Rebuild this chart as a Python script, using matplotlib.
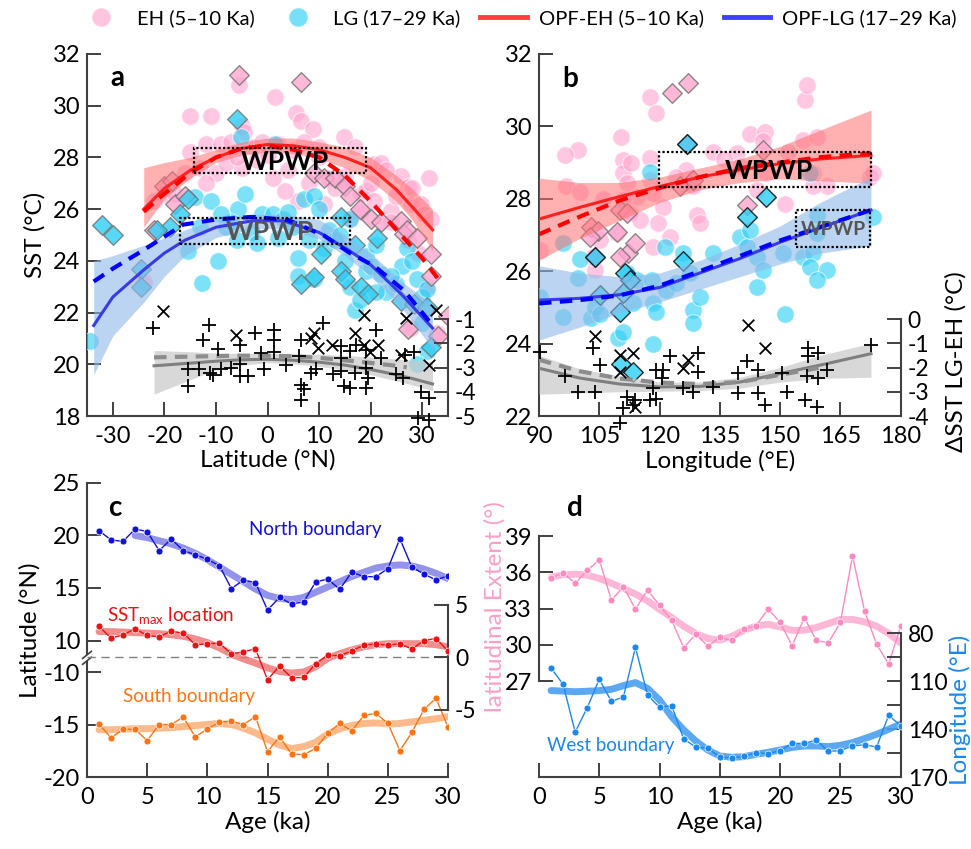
import matplotlib
matplotlib.use("Agg")
import matplotlib.pyplot as plt
from matplotlib.lines import Line2D
from matplotlib.patches import Rectangle

plt.rcParams["font.family"] = ["Lato", "DejaVu Sans"]
plt.rcParams["axes.unicode_minus"] = False
plt.rcParams["mathtext.fontset"] = "custom"
plt.rcParams["mathtext.rm"] = "Lato"

# ---------------- panel a data (latitude) ----------------
eh_a_lat = [-5.5, 1.5, -15, -11, -5, -4.5, 5.5, 6.5, 8.8, -15, -12, -9, -7, -3, -1, 2, 5, 7, 10, 14.9,
            17, 20.7, 22, 25.9, 27.2, 31.4, -20, -22, -18, -16, -13, -10, -8, -5, -2, 1, 4, 8, 12, 15,
            18.1, 19, 20.7, 23.9, 25, 27.8, 29.7, 30.4, 27.2, 29.1, 31, 32.9, 27.8, 10, 13, 18, 24, 6, 3.3,
            -6, -12, 28, 23, 20, 0, 11, 16, 31.7, -24, 14.9]
eh_a_sst = [30.8, 30.35, 29.6, 29.6, 29.2, 29.0, 29.7, 29.4, 29.1, 28.2, 28.5, 28.5, 28.6, 28.4, 28.6, 28.5,
            28.3, 28.6, 28.4, 28.8, 28.4, 27.75, 27.8, 27.3, 26.85, 27.2, 26.6, 26.3, 26.6, 27.4, 27.6, 27.4,
            27.8, 27.6, 27.9, 27.2, 27.5, 27.0, 27.2, 27.3, 26.6, 26.7, 26.33, 25.94, 26.5, 26.2, 26.2, 25.8,
            24.8, 24.3, 23.0, 21.2, 21.4, 28.0, 26.8, 25.9, 25.5, 26.3, 26.7, 28.0, 27.0, 26.8, 27.5, 27.0,
            28.1, 26.2, 25.6, 25.6, 23.2, 27.1]
lg_a_lat = [-34.5, -15.4, -12.7, -14.1, -10.9, -5.75, -4.45, -1, 1, -8, -3, 3, 5, -9.6, -6, -13, 6, 7, 9,
            10, 12, 8, 6, 9, 11, 13, 16, 15, 16, 17, 19, 19, 20, 21, 22, 23, 25, 26, 27, 28, 29, 30, 31, 30,
            31, 29, 21, 18, -7, -2, 2, 4, -5.1, 1.4, -9, 14, 24]
lg_a_sst = [20.9, 24.4, 23.13, 26.46, 26.33, 26.0, 26.58, 25.8, 25.8, 25.3, 25.1, 25.6, 25.3, 24.0, 24.8,
            25.3, 24.1, 26.4, 26.5, 26.0, 25.2, 24.8, 23.4, 23.3, 24.5, 24.8, 25.6, 24.0, 23.0, 22.1, 23.6,
            24.2, 23.8, 24.6, 23.5, 22.8, 23.1, 23.8, 24.5, 24.0, 23.3, 22.6, 22.9, 21.6, 20.5, 20.0, 22.8,
            22.5, 25.5, 24.7, 24.9, 25.9, 28.8, 28.5, 25.8, 25.0, 23.4]
ehd_a_lat = [-5.5, 6.5, -20, -18.5, -18, -22, 9, 11, 13, 15, 16, 18, 20, 22, 25.9, 26.5, 27, 29, 31.7,
             31.7, 34.9, 33, 27.2, -16]
ehd_a_sst = [31.2, 30.9, 26.9, 27.1, 26.2, 25.2, 27.4, 27.2, 27.2, 26.9, 26.5, 26.0, 25.6, 25.5, 25.55,
             25.04, 25.2, 24.9, 24.27, 23.43, 21.88, 21.1, 21.37, 26.5]
lgd_a_lat = [-32, -30, -24.5, -24.5, -19, -17, -15.5, -6, 10.4, 6.5, 9.1, 14.3, 18.1, 21.3, 25.9, 28.4, 31,
             31.7, 19.4, 14.3, -21.5, 17, 15]
lgd_a_sst = [25.4, 25.0, 23.7, 23.0, 25.3, 25.8, 26.4, 29.5, 24.27, 23.1, 23.36, 23.6, 22.98, 24.9, 22.46,
             22.33, 22.2, 20.66, 22.7, 25.7, 25.2, 24.6, 23.3]
plus_a_lat = [-22.2, -12.5, -11.4, -9.6, -5.4, -2.5, 1.2, 1.3, 1.3, 6.5, 10.7, 14.3, 17.2, 19.1, 21.1, 26.6,
              28.5, 29.8, 31.4, 29.2, 31.4, -15.5, -15.5, -13.2, -11.2, -9, -7.0, -5.4, -3.8, -0.6, 3.6,
              6.5, 6.5, 8.5, 9.4, 12.7, 14.3, 14.9, 15.9, 16.9, 19.1, 19.5, 25, 26.2, 14.3, 19.1, 6.2, -5.4,
              -1.2, -10.5, 7, 16, 22]
plus_a_d = [-1.37, -1.86, -1.26, -2.24, -2.06, -1.58, -1.44, -1.86, -2.34, -1.86, -1.17, -2.13, -2.06, -2.27,
            -1.44, -2.48, -2.34, -3.99, -4.27, -5.1, -5.17, -3.08, -3.77, -3.08, -3.22, -3.08, -3.0, -3.35,
            -3.35, -3.08, -2.9, -3.72, -4.34, -3.22, -3.08, -3.28, -3.15, -3.77, -3.84, -3.22, -3.84, -3.42,
            -3.28, -3.42, -2.61, -3.03, -2.54, -2.86, -2.4, -3.3, -3.9, -2.3, -2.6]
x_a_lat = [-20.3, -6.1, 9.1, 8.5, 9.8, 12.5, 16.9, 18.8, 18.8, 21.4, 26.9, 32.7, 25.9, 19.8, 31.4]
x_a_d = [-0.68, -1.65, -1.58, -1.79, -2.2, -2.06, -1.58, -0.82, -2.06, -2.06, -0.96, -0.61, -2.48, -2.34, -2.9]

fit_a_lat = [-24, -20, -15, -10, -5, 0, 5, 10, 15, 20, 25, 28, 32]
red_a_sol = [26.0, 26.8, 27.5, 28.0, 28.35, 28.5, 28.45, 28.3, 28.0, 27.6, 26.75, 26.1, 25.2]
red_a_lo = [25.3, 26.4, 27.2, 27.8, 28.1, 28.2, 28.15, 27.95, 27.6, 27.1, 26.3, 25.6, 24.4]
red_a_hi = [27.6, 27.8, 28.0, 28.3, 28.6, 28.75, 28.75, 28.6, 28.4, 28.0, 27.3, 26.8, 26.0]
red_a_dash_lat = [-24, -20, -15, -10, -5, 0, 5, 10, 15, 20, 25, 30, 33.5]
red_a_dash = [25.9, 26.6, 27.4, 28.0, 28.35, 28.45, 28.3, 28.0, 27.3, 26.3, 25.2, 24.1, 23.2]
blue_a_lat = [-33.7, -30, -24, -20, -16, -10, -3, 3, 10, 15, 20, 26, 32]
blue_a_sol = [21.5, 22.6, 23.65, 24.3, 24.8, 25.3, 25.55, 25.55, 25.1, 24.5, 23.85, 22.7, 21.4]
blue_a_lo = [19.6, 21.1, 22.4, 23.4, 24.2, 24.9, 25.25, 25.25, 24.85, 24.2, 23.4, 22.2, 20.6]
blue_a_hi = [24.0, 24.2, 24.6, 24.9, 25.2, 25.6, 25.8, 25.8, 25.6, 25.0, 24.3, 23.2, 22.3]
blue_a_dash_lat = [-33.7, -30, -24, -16.4, -10, -3, 4, 11, 16, 20.7, 26.5, 32.3]
blue_a_dash = [23.2, 23.7, 24.42, 25.4, 25.6, 25.7, 25.58, 24.97, 24.3, 23.8, 22.85, 21.43]
gray_a_lat = [-22, -15, -10, -5, 0, 5, 10, 15, 20, 25, 28, 32]
gray_a_sol = [-2.93, -2.82, -2.74, -2.68, -2.66, -2.7, -2.78, -2.9, -3.08, -3.3, -3.45, -3.68]
gray_a_lo = [-4.1, -3.5, -3.1, -2.9, -2.8, -2.85, -2.95, -3.1, -3.3, -3.55, -3.72, -3.95]
gray_a_hi = [-2.3, -2.35, -2.4, -2.42, -2.42, -2.43, -2.45, -2.5, -2.57, -2.65, -2.7, -2.75]
gray_a_dash_lat = [-22, -15, -10, -5, 0, 5, 10, 15, 20, 25, 27]
gray_a_dash = [-2.58, -2.55, -2.53, -2.51, -2.51, -2.54, -2.6, -2.7, -2.81, -2.93, -2.99]

# ---------------- panel b data (longitude) ----------------
eh_b_lon = [117.6, 119.2, 110.5, 99.7, 96.4, 110.9, 117.6, 90.2, 96.8, 100.1, 103.9, 103.5, 105.1, 109.3,
            110.9, 111.8, 112.6, 114.3, 110.9, 115.1, 117.6, 118.4, 120.9, 119.7, 122.6, 118.4, 126.7, 128.4,
            129.2, 130, 133.4, 139.2, 140, 142.5, 146.2, 145.8, 144.2, 146.6, 151.2, 156.2, 156.6, 155.8,
            159.1, 158.3, 161.6, 158.3, 172.4, 173.2, 106, 113, 124, 136, 152]
eh_b_sst = [30.82, 30.36, 29.72, 29.35, 29.2, 29.07, 29.12, 26.58, 28.34, 28.2, 26.03, 26.4, 26.86, 27.05,
            28.7, 28.43, 27.6, 28.06, 27.97, 27.41, 28.52, 28.15, 27.78, 27.32, 26.95, 26.68, 28.8, 28.34,
            27.55, 27.32, 29.3, 29.26, 28.9, 29.8, 29.85, 29.6, 28.24, 28.7, 27.87, 30.73, 31.14, 29.62,
            29.72, 28.7, 28.34, 28.34, 28.61, 28.7, 28.0, 29.0, 28.6, 29.1, 29.3]
lg_b_lon = [90.2, 96, 96, 100.1, 99.7, 103, 103.9, 105.1, 109.7, 110.9, 111.8, 113.4, 114.3, 117.6, 118,
            118.4, 119.2, 118.4, 121.3, 121.7, 124.2, 125.9, 127.5, 128.4, 128.4, 130, 133.4, 139.9, 141.7,
            142.5, 144.2, 145.8, 144.2, 150.8, 151.2, 155.8, 158.3, 159.1, 159.1, 157.5, 161.6, 159.1, 173.2,
            157.5]
lg_b_sst = [25.3, 24.74, 26.77, 26.35, 25.8, 24.7, 25.02, 24.83, 24.15, 24.33, 25.94, 25.11, 25.76, 28.75,
            25.76, 25.11, 24.88, 24.0, 26.68, 25.48, 25.67, 26.49, 25.94, 24.93, 24.56, 25.3, 26.49, 26.95,
            26.68, 27.14, 26.4, 26.03, 25.57, 26.49, 24.83, 26.4, 26.49, 27.05, 27.55, 26.12, 26.03, 25.76,
            27.5, 28.7]
ehd_b_lon = [123.2, 127.1, 126.9, 145.8, 141.7, 103, 104.7, 102.6, 103.9, 109.3, 110.1, 111.8, 112.2, 113.8,
             110.1, 125, 128.4]
ehd_b_sst = [30.93, 31.19, 29.5, 29.35, 27.83, 27.23, 27.1, 26.95, 26.4, 27.09, 27.69, 27.6, 26.49, 26.77,
             26.4, 28.34, 28.52]
lgd_b_lon = [125.9, 141.7, 146.5, 105.3, 110.1, 111.3, 112.6, 110.9, 110.5, 113.4, 103.9, 126.9]
lgd_b_sst = [26.29, 27.5, 28.06, 25.34, 24.88, 25.94, 25.76, 25.39, 23.45, 23.22, 26.4, 29.5]
plus_b_lon = [90.2, 96.4, 99.7, 103.9, 103.5, 105.1, 110.1, 110.9, 111.8, 113.8, 117.6, 118.4, 119.2, 120.9,
              122.6, 120.5, 125.9, 128.4, 129.6, 129.6, 133.4, 139.6, 139.6, 141.7, 144.6, 144.6, 146.2,
              150.4, 151.6, 156.2, 157, 157, 159.5, 159.1, 159.5, 161.6, 172.6, 156.6, 113.4, 119.2]
plus_b_d = [-1.34, -2.37, -2.99, -3.03, -1.2, -1.89, -4.3, -3.68, -3.2, -3.34, -3.34, -2.86, -2.1, -2.1,
            -1.54, -2.44, -2.86, -2.99, -2.17, -1.41, -2.79, -2.24, -3.06, -1.75, -2.1, -3.06, -3.54, -2.24,
            -2.99, -3.34, -1.2, -1.54, -1.41, -3.61, -2.44, -2.1, -1.06, -2.37, -3.55, -3.3]
x_b_lon = [103.9, 110.1, 113.4, 125.9, 127.1, 142.1, 146.2, 110.1, 113.8]
x_b_d = [-0.72, -1.48, -1.41, -2.03, -1.68, -0.23, -1.2, -2.17, -3.61]

fit_b_lon = [90, 100, 110, 120, 130, 140, 150, 160, 172.6]
red_b_sol = [27.44, 27.76, 28.06, 28.34, 28.6, 28.8, 28.97, 29.1, 29.2]
red_b_dash = [27.02, 27.5, 27.95, 28.3, 28.6, 28.85, 29.0, 29.15, 29.26]
red_b_lo = [26.3, 26.9, 27.4, 27.9, 28.25, 28.45, 28.55, 28.5, 28.43]
red_b_hi = [28.57, 28.45, 28.45, 28.6, 28.85, 29.1, 29.45, 29.9, 30.45]
blue_b_sol = [25.2, 25.25, 25.35, 25.55, 25.95, 26.35, 26.8, 27.2, 27.69]
blue_b_dash = [25.11, 25.2, 25.33, 25.6, 26.0, 26.42, 26.85, 27.22, 27.69]
blue_b_lo = [24.1, 24.45, 24.85, 25.15, 25.5, 25.85, 26.2, 26.5, 26.7]
blue_b_hi = [26.15, 25.95, 25.85, 25.95, 26.3, 26.75, 27.25, 27.9, 28.6]
gray_b_sol = [-2.03, -2.43, -2.68, -2.8, -2.78, -2.6, -2.25, -1.9, -1.43]
gray_b_lo = [-3.1, -3.05, -3.0, -2.98, -2.95, -2.85, -2.6, -2.45, -2.4]
gray_b_hi = [-1.5, -2.05, -2.35, -2.6, -2.6, -2.4, -2.0, -1.5, -1.0]
gray_b_dash_lon = [90, 100, 110, 120, 130, 140, 150, 161.6]
gray_b_dash = [-1.68, -2.15, -2.45, -2.62, -2.68, -2.6, -2.3, -1.96]

# ---------------- panel c / d data (age) ----------------
age = list(range(1, 31))
north = [20.46, 19.57, 19.44, 20.62, 20.37, 18.56, 19.67, 18.56, 18.17, 17.73, 17.13, 14.94, 15.76, 15.51,
         12.9, 14.1, 13.48, 13.67, 15.57, 15.86, 14.87, 16.52, 16.08, 16.08, 16.84, 19.7, 16.97, 16.33,
         15.76, 16.17]
north_age_s = list(range(4, 31))
north_s = [20.0, 19.8, 19.5, 19.2, 18.8, 18.3, 17.7, 17.0, 16.3, 15.6, 14.9, 14.3, 14.0, 13.9, 14.1, 14.6,
           15.1, 15.6, 16.1, 16.5, 16.9, 17.1, 17.2, 17.1, 16.8, 16.4, 15.9]
sstmax = [2.94, 1.83, 2.14, 2.71, 2.08, 1.95, 2.49, 2.3, 1.19, 1.29, 1.35, 0.33, 0.52, 0.81, -2.14, -0.81,
          -1.95, -1.92, -0.62, 0.21, 0.14, 0.62, 1.16, 1.26, 1.16, 1.29, 0.78, 1.6, 1.79, 0.59]
sstmax_s = [2.45, 2.45, 2.4, 2.35, 2.3, 2.25, 2.15, 2.0, 1.75, 1.4, 0.9, 0.3, -0.15, -0.55, -1.0, -1.35, -1.5,
            -1.4, -0.9, -0.1, 0.35, 0.7, 1.0, 1.2, 1.3, 1.3, 1.3, 1.3, 1.2, 1.0]
south = [-14.98, -16.26, -15.46, -15.46, -16.54, -15.0, -15.0, -14.29, -16.19, -15.43, -14.79, -14.67, -15.0,
         -14.25, -17.59, -16.16, -17.81, -17.87, -17.27, -15.84, -14.89, -15.62, -14.13, -13.94, -14.89,
         -17.49, -15.75, -13.56, -12.5, -15.27]
south_s = [-15.5, -15.5, -15.45, -15.4, -15.4, -15.35, -15.3, -15.2, -15.1, -15.0, -14.9, -15.0, -15.35, -15.8,
           -16.4, -16.95, -17.3, -17.1, -16.7, -15.9, -15.4, -15.1, -14.9, -14.85, -14.95, -14.9, -14.75,
           -14.6, -14.45, -14.25]
extent = [35.52, 35.96, 35.08, 36.16, 37.04, 33.7, 34.8, 32.95, 34.55, 33.26, 32.04, 29.75, 30.88, 29.89,
          30.61, 30.36, 31.3, 31.57, 32.98, 31.85, 29.91, 32.26, 30.36, 30.16, 31.87, 37.34, 32.81, 30.05,
          28.4, 31.54]
extent_s = [35.6, 35.8, 35.85, 35.77, 35.5, 35.1, 34.67, 34.2, 33.64, 32.93, 32.26, 31.54, 30.94, 30.52, 30.38,
            30.7, 31.2, 31.54, 31.7, 31.48, 31.2, 31.2, 31.43, 31.76, 32.1, 32.1, 31.9, 31.54, 30.94, 30.16]
west = [101.9, 112.1, 141.9, 126.7, 108.9, 122.7, 120.0, 89.0, 118.75, 126.5, 125.4, 146.25, 151.25, 152.1,
        157.5, 158.1, 157.1, 154.8, 155.4, 153.5, 149.0, 149.0, 146.9, 154.0, 153.5, 150.6, 149.8, 151.25,
        131.5, 137.9]
west_s = [116.0, 116.3, 116.7, 116.4, 116.0, 115.2, 112.9, 111.0, 114.6, 121.9, 132.3, 140.6, 147.5, 153.1,
          156.9, 157.7, 157.3, 155.8, 154.6, 153.1, 151.5, 150.6, 150.6, 151.0, 150.2, 148.5, 146.0, 143.3,
          140.2, 136.9]

# ---------------- styles ----------------
PINK = "#ffa6cf"
CYAN = "#2ecff5"
SPINE = "#404040"
TICK_FS = 17
LAB_FS = 17.5
NOTE_FS = 13.5

fig = plt.figure(figsize=(9.71, 8.49), dpi=100)


def style(ax, left_bounds=None):
    for s in ["top", "right"]:
        ax.spines[s].set_visible(False)
    for s in ["left", "bottom"]:
        ax.spines[s].set_color(SPINE)
        ax.spines[s].set_linewidth(1.5)
    if left_bounds is not None:
        ax.spines["left"].set_bounds(*left_bounds)
    ax.tick_params(direction="in", length=10, width=1.4, color=SPINE, labelsize=TICK_FS, pad=5)
    ax.tick_params(axis="x", pad=7)


def style_right(ax2, bounds):
    for s in ["top", "left", "bottom"]:
        ax2.spines[s].set_visible(False)
    ax2.spines["right"].set_color(SPINE)
    ax2.spines["right"].set_linewidth(1.5)
    ax2.spines["right"].set_bounds(*bounds)
    ax2.tick_params(direction="in", length=10, width=1.4, color=SPINE, labelsize=TICK_FS - 0.5, pad=5)


def scatter_panel(ax, eh_x, eh_y, lg_x, lg_y, ehd_x, ehd_y, lgd_x, lgd_y, lgd_edge):
    ax.scatter(eh_x, eh_y, s=160, c=PINK, alpha=0.62, edgecolors="white", linewidths=0.8, zorder=2)
    ax.scatter(lg_x, lg_y, s=160, c=CYAN, alpha=0.62, edgecolors="white", linewidths=0.8, zorder=3)
    ax.scatter(ehd_x, ehd_y, s=100, marker="D", c=PINK, alpha=0.8, edgecolors="#707070", linewidths=1.0,
               zorder=4)
    ax.scatter(lgd_x, lgd_y, s=100, marker="D", c=CYAN, alpha=0.8, edgecolors=lgd_edge, linewidths=1.0,
               zorder=4)


# ================= panel a =================
ax_a = fig.add_axes([0.0896, 0.51, 0.3718, 0.4264])
style(ax_a)
scatter_panel(ax_a, eh_a_lat, eh_a_sst, lg_a_lat, lg_a_sst, ehd_a_lat, ehd_a_sst, lgd_a_lat, lgd_a_sst,
              "#707070")
ax_a.fill_between(fit_a_lat, red_a_lo, red_a_hi, color="#ff6f6f", alpha=0.55, lw=0, zorder=5)
ax_a.fill_between(blue_a_lat, blue_a_lo, blue_a_hi, color="#8fb8e8", alpha=0.6, lw=0, zorder=5)
ax_a.plot(fit_a_lat, red_a_sol, color="#ff2020", lw=2.2, zorder=6)
ax_a.plot(red_a_dash_lat, red_a_dash, color="#ff0000", lw=3, ls=(0, (3, 2)), zorder=6)
ax_a.plot(blue_a_lat, blue_a_sol, color="#3a3ae8", lw=2.2, zorder=6)
ax_a.plot(blue_a_dash_lat, blue_a_dash, color="#0000ff", lw=3, ls=(0, (3, 2)), zorder=6)
ax_a.add_patch(Rectangle((-14.35, 27.38), 33.45, 0.97, fill=False, ec="black", lw=1.6, ls=(0, (1, 1)), zorder=8))
ax_a.add_patch(Rectangle((-16.9, 24.65), 32.8, 0.99, fill=False, ec="black", lw=1.6, ls=(0, (1, 1)), zorder=8))
ax_a.text(3.3, 27.84, "WPWP", ha="center", va="center", fontsize=19, fontweight="bold", color="black", zorder=9)
ax_a.text(0.4, 25.12, "WPWP", ha="center", va="center", fontsize=19, fontweight="bold", color="#555555",
          zorder=9)
ax_a.set_xlim(-35, 35)
ax_a.set_ylim(18, 32)
ax_a.set_xticks(range(-30, 31, 10))
ax_a.set_yticks(range(18, 33, 2))
ax_a.set_xlabel("Latitude (°N)", fontsize=LAB_FS, labelpad=2)
ax_a.set_ylabel("SST (°C)", fontsize=LAB_FS, labelpad=5)
ax_a.text(0.065, 0.935, "a", transform=ax_a.transAxes, fontsize=20, fontweight="bold", va="center")

ax_a2 = ax_a.twinx()
style_right(ax_a2, (-5, -1))
ax_a2.fill_between(gray_a_lat, gray_a_lo, gray_a_hi, color="#c8c8c8", alpha=0.7, lw=0, zorder=1)
ax_a2.plot(gray_a_lat, gray_a_sol, color="#7f7f7f", lw=2.2, zorder=2)
ax_a2.plot(gray_a_dash_lat, gray_a_dash, color="#8c8c8c", lw=3, ls=(0, (3, 2)), zorder=2)
ax_a2.scatter(plus_a_lat, plus_a_d, marker="+", s=110, c="black", linewidths=1.3, zorder=3, clip_on=False)
ax_a2.scatter(x_a_lat, x_a_d, marker="x", s=70, c="black", linewidths=1.3, zorder=3, clip_on=False)
ax_a2.set_ylim(-5, 9.93)
ax_a2.set_yticks([-5, -4, -3, -2, -1])

# ================= panel b =================
ax_b = fig.add_axes([0.5551, 0.51, 0.3725, 0.4264])
style(ax_b)
scatter_panel(ax_b, eh_b_lon, eh_b_sst, lg_b_lon, lg_b_sst, ehd_b_lon, ehd_b_sst, lgd_b_lon, lgd_b_sst,
              "black")
ax_b.fill_between(fit_b_lon, red_b_lo, red_b_hi, color="#ff6f6f", alpha=0.55, lw=0, zorder=5)
ax_b.fill_between(fit_b_lon, blue_b_lo, blue_b_hi, color="#8fb8e8", alpha=0.6, lw=0, zorder=5)
ax_b.plot(fit_b_lon, red_b_sol, color="#ff2020", lw=2.2, zorder=6)
ax_b.plot(fit_b_lon, red_b_dash, color="#ff0000", lw=3, ls=(0, (3, 2)), zorder=6)
ax_b.plot(fit_b_lon, blue_b_sol, color="#3a3ae8", lw=2.2, zorder=6)
ax_b.plot(fit_b_lon, blue_b_dash, color="#0000ff", lw=3, ls=(0, (3, 2)), zorder=6)
ax_b.add_patch(Rectangle((119.8, 28.32), 52.8, 0.98, fill=False, ec="black", lw=1.6, ls=(0, (1, 1)), zorder=8))
ax_b.add_patch(Rectangle((153.9, 26.68), 18.5, 1.01, fill=False, ec="black", lw=1.6, ls=(0, (1, 1)), zorder=8))
ax_b.text(147.1, 28.78, "WPWP", ha="center", va="center", fontsize=19, fontweight="bold", color="black", zorder=9)
ax_b.text(163.3, 27.14, "WPWP", ha="center", va="center", fontsize=14, fontweight="bold", color="#555555",
          zorder=9)
ax_b.set_xlim(90, 180)
ax_b.set_ylim(22, 32)
ax_b.set_xticks(range(90, 181, 15))
ax_b.set_yticks(range(22, 33, 2))
ax_b.set_xlabel("Longitude (°E)", fontsize=LAB_FS, labelpad=2)
ax_b.text(0.064, 0.93, "b", transform=ax_b.transAxes, fontsize=20, fontweight="bold", va="center")

ax_b2 = ax_b.twinx()
style_right(ax_b2, (-4, 0))
ax_b2.fill_between(fit_b_lon, gray_b_lo, gray_b_hi, color="#c8c8c8", alpha=0.7, lw=0, zorder=1)
ax_b2.plot(fit_b_lon, gray_b_sol, color="#7f7f7f", lw=2.2, zorder=2)
ax_b2.plot(gray_b_dash_lon, gray_b_dash, color="#8c8c8c", lw=3, ls=(0, (3, 2)), zorder=2)
ax_b2.scatter(plus_b_lon, plus_b_d, marker="+", s=110, c="black", linewidths=1.3, zorder=3, clip_on=False)
ax_b2.scatter(x_b_lon, x_b_d, marker="x", s=70, c="black", linewidths=1.3, zorder=3, clip_on=False)
ax_b2.set_ylim(-4, 10.93)
ax_b2.set_yticks([-4, -3, -2, -1, 0])
fig.text(956 / 971, 1 - 362 / 849, "ΔSST LG-EH (°C)", rotation=90, ha="center", va="center", fontsize=LAB_FS)

# ================= panel c =================
OFF = 17  # lower (southern) part of the broken axis is shifted up by this amount
ax_c = fig.add_axes([0.0896, 0.0848, 0.3718, 0.3463])
style(ax_c)
ax_c.plot(north_age_s, north_s, color="#7878e8", lw=5, alpha=0.8, solid_capstyle="round", zorder=2)
ax_c.plot(age, north, color="#1010e0", lw=1.0, marker="o", ms=5, mec="white", mew=0.5, zorder=3)
ax_c.plot(age, [v + OFF for v in south_s], color="#ffae78", lw=5, alpha=0.85, solid_capstyle="round", zorder=2)
ax_c.plot(age, [v + OFF for v in south], color="#ff7410", lw=1.0, marker="o", ms=5, mec="white", mew=0.5,
          zorder=3)
ax_c.set_xlim(0, 30)
ax_c.set_ylim(-3, 25)
ax_c.set_xticks(range(0, 31, 5))
ax_c.set_yticks([25, 20, 15, 10, -10 + OFF, -15 + OFF, -20 + OFF])
ax_c.set_yticklabels(["25", "20", "15", "10", "-10", "-15", "-20"])
ax_c.set_xlabel("Age (ka)", fontsize=LAB_FS, labelpad=2)
ax_c.set_ylabel("Latitude (°N)", fontsize=LAB_FS, labelpad=2)
ax_c.text(0.058, 0.915, "c", transform=ax_c.transAxes, fontsize=20, fontweight="bold", va="center")
ax_c.text(19.0, 20.6, "North boundary", color="#1010e0", fontsize=NOTE_FS, ha="center", va="center")
ax_c.text(1.7, 12.3, "SST$_{\\mathregular{max}}$ location", color="#ee1010", fontsize=NOTE_FS, ha="left",
          va="center")
ax_c.text(3.0, -12.3 + OFF, "South boundary", color="#ff7410", fontsize=NOTE_FS, ha="left", va="center")
# axis break mark
ybreak = (8.35 + 3) / 28
ax_c.add_patch(Rectangle((-0.012, ybreak - 0.01), 0.024, 0.02, transform=ax_c.transAxes, fc="white", ec="none",
                         clip_on=False, zorder=10))
for dy in (-0.01, 0.01):
    ax_c.plot([-0.012, 0.012], [ybreak + dy - 0.012, ybreak + dy + 0.012], transform=ax_c.transAxes,
              color=SPINE, lw=1.2, clip_on=False, zorder=11)

ax_c2 = ax_c.twinx()
style_right(ax_c2, (-5, 5))
ax_c2.axhline(0, color="#808080", lw=1.0, ls=(0, (6, 4)), zorder=1)
ax_c2.plot(age, sstmax_s, color="#f07070", lw=5, alpha=0.8, solid_capstyle="round", zorder=2)
ax_c2.plot(age, sstmax, color="#ee1010", lw=1.0, marker="o", ms=5, mec="white", mew=0.5, zorder=3)
ax_c2.set_ylim(-3 - 8.4, 25 - 8.4)
ax_c2.set_yticks([-5, 0, 5])

# ================= panel d =================
ax_d = fig.add_axes([0.5551, 0.0848, 0.3725, 0.3463])
style(ax_d, left_bounds=(27, 39))
ax_d.plot(age, extent_s, color="#ffb0d4", lw=5, alpha=0.9, solid_capstyle="round", zorder=2)
ax_d.plot(age, extent, color="#ff8ac0", lw=1.0, marker="o", ms=5, mec="white", mew=0.5, zorder=3)
ax_d.set_xlim(0, 30)
ax_d.set_ylim(19.05, 43.4)
ax_d.set_xticks(range(0, 31, 5))
ax_d.set_yticks(range(27, 40, 3))
ax_d.set_xlabel("Age (ka)", fontsize=LAB_FS, labelpad=2)
ax_d.text(0.077, 0.915, "d", transform=ax_d.transAxes, fontsize=20, fontweight="bold", va="center")
fig.text(495 / 971, 1 - 607 / 849, "latitudinal Extent (°)", rotation=90, ha="center", va="center",
         fontsize=LAB_FS, color="#ff9ec8")

ax_d2 = ax_d.twinx()
style_right(ax_d2, (80, 170))
ax_d2.plot(age, west_s, color="#4aa0f0", lw=5, alpha=0.9, solid_capstyle="round", zorder=2)
ax_d2.plot(age, west, color="#1a88f0", lw=1.0, marker="o", ms=5, mec="white", mew=0.5, zorder=3)
ax_d2.set_ylim(170, -13.75)
ax_d2.set_yticks([80, 110, 140, 170])
ax_d2.set_yticks([95, 125, 155], minor=True)
ax_d2.tick_params(which="minor", direction="in", length=10, width=1.4, color=SPINE)
ax_d2.text(0.7, 150.5, "West boundary", color="#1a88f0", fontsize=NOTE_FS, ha="left", va="center")
fig.text(960 / 971, 1 - 710 / 849, "Longitude (°E)", rotation=90, ha="center", va="center", fontsize=LAB_FS,
         color="#1a88f0")

# ================= legend =================
handles = [
    Line2D([], [], ls="none", marker="o", ms=14, mfc=PINK, mec="white", alpha=0.65),
    Line2D([], [], ls="none", marker="o", ms=14, mfc=CYAN, mec="white", alpha=0.65),
    Line2D([], [], color="#ff4040", lw=3.5),
    Line2D([], [], color="#4040ff", lw=3.5),
]
labels = ["EH (5–10 Ka)", "LG (17–29 Ka)", "OPF-EH (5–10 Ka)", "OPF-LG (17–29 Ka)"]
fig.legend(handles, labels, loc="center", bbox_to_anchor=(0.533, 1 - 18 / 849), ncol=4, frameon=False,
           fontsize=14.5, handlelength=2.3, columnspacing=1.0, handletextpad=0.6)

fig.savefig("out.png", dpi=100)
